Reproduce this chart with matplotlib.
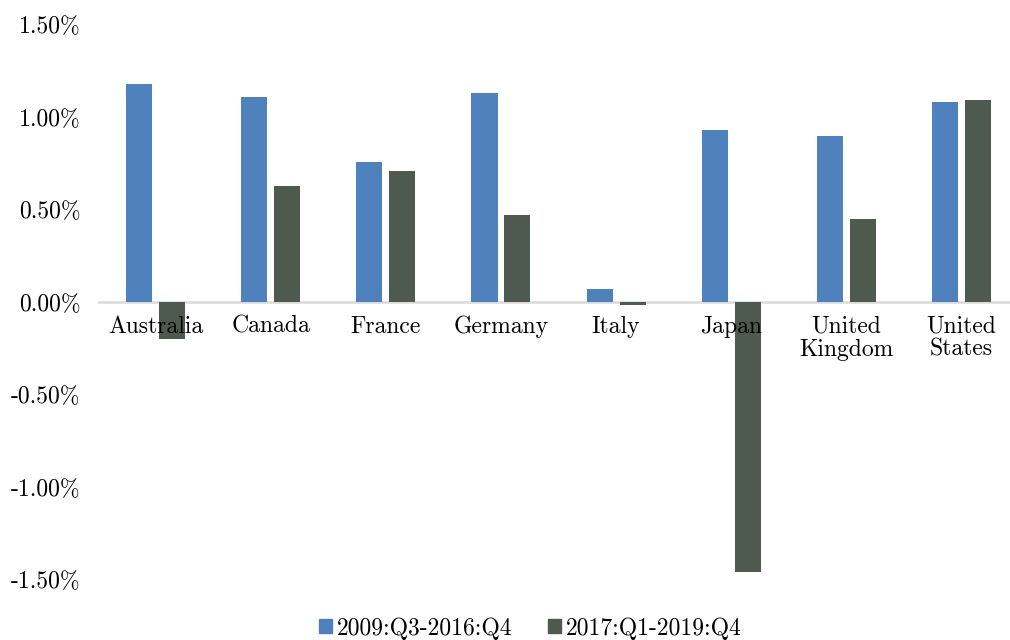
import matplotlib
matplotlib.use("Agg")
import matplotlib.pyplot as plt
import numpy as np
from matplotlib.ticker import FuncFormatter, MultipleLocator
from matplotlib.patches import Patch
import matplotlib.transforms as mtransforms

plt.rcParams['font.family'] = ['cmr10', 'DejaVu Serif']
plt.rcParams['axes.formatter.use_mathtext'] = True

categories = ["Australia", "Canada", "France", "Germany", "Italy", "Japan",
              "United\nKingdom", "United\nStates"]
series_names = ["2009:Q3-2016:Q4", "2017:Q1-2019:Q4"]
vals_2009_2016 = [1.18, 1.11, 0.76, 1.13, 0.07, 0.93, 0.90, 1.085]
vals_2017_2019 = [-0.20, 0.63, 0.71, 0.47, -0.015, -1.46, 0.45, 1.095]
colors = ["#4F81BD", "#4E5A4F"]

fig = plt.figure(figsize=(10.1, 6.4), dpi=100)
ax = fig.add_axes([0.097, 0.094, 0.912, 0.867])

x = np.arange(len(categories))
w = 0.226
off = 0.143
ax.bar(x - off, vals_2009_2016, w, color=colors[0], zorder=2)
ax.bar(x + off, vals_2017_2019, w, color=colors[1], zorder=2)

ax.set_xlim(-0.5, len(categories) - 0.5)
ax.set_ylim(-1.5, 1.5)
ax.axhline(0, color="#D9D9D9", lw=1.8, zorder=1)

ax.yaxis.set_major_locator(MultipleLocator(0.5))
ax.yaxis.set_major_formatter(FuncFormatter(lambda v, p: ("-" if v < -1e-9 else "") + f"{abs(v):.2f}%"))
ax.tick_params(axis='y', length=0, pad=12.5, labelsize=17)
ax.set_xticks([])
for s in ax.spines.values():
    s.set_visible(False)

trans = mtransforms.offset_copy(ax.transData, fig=fig, x=0, y=-13, units='dots')
for xi, lab in zip(x, categories):
    ax.text(xi, 0, lab, ha='center', va='top', fontsize=17, linespacing=1.05,
            transform=trans, zorder=3)

handles = [Patch(color=colors[0]), Patch(color=colors[1])]
fig.legend(handles, series_names, loc='center', bbox_to_anchor=(0.525, 0.018),
           ncol=2, frameon=False, fontsize=17, handlelength=0.55, handleheight=0.55,
           handletextpad=0.2, columnspacing=1.5, borderaxespad=0, borderpad=0)

fig.savefig("out.png", dpi=100)
